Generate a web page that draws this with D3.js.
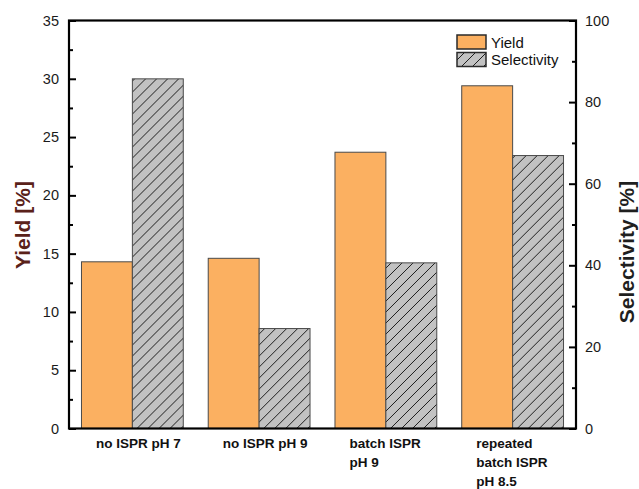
<!DOCTYPE html>
<html>
<head>
<meta charset="utf-8">
<script src="https://cdn.jsdelivr.net/npm/d3@7"></script>
<style>
  html, body { margin: 0; padding: 0; background: #fff; }
  svg { display: block; font-family: Arial, "Liberation Sans", sans-serif; }
</style>
</head>
<body>
<svg id="chart" width="639" height="489"></svg>
<script>
// Process conditions on the x axis (each entry is split into label lines)
const categories = ["no ISPR pH 7", "no ISPR pH 9", "batch ISPR pH 9", "repeated batch ISPR pH 8.5"];
const categoryLines = [["no ISPR pH 7"], ["no ISPR pH 9"], ["batch ISPR", "pH 9"], ["repeated", "batch ISPR", "pH 8.5"]];
// Yield [%] (left axis) and selectivity [%] (right axis)
const yieldValues = [14.3, 14.6, 23.7, 29.4];
const selectivityValues = [85.7, 24.5, 40.6, 66.9];
const seriesNames = ["Yield", "Selectivity"];
// Axis ticks
const yieldTicks = [0, 5, 10, 15, 20, 25, 30, 35];
const yieldMinorTicks = [2.5, 7.5, 12.5, 17.5, 22.5, 27.5, 32.5];
const selTicks = [0, 20, 40, 60, 80, 100];
const selMinorTicks = [10, 30, 50, 70, 90];

const svg = d3.select("#chart");
const plotLeft = 69, plotRight = 576, plotTop = 20.5, plotBottom = 428.5;

const x0 = d3.scaleBand().domain(categories).range([plotLeft, plotRight])
  .paddingInner(25 / 127).paddingOuter(12.5 / 127);
const x1 = d3.scaleBand().domain(seriesNames).range([0, x0.bandwidth()]);
const yYield = d3.scaleLinear().domain([0, 35]).range([plotBottom, plotTop]);
const ySel = d3.scaleLinear().domain([0, 100]).range([plotBottom, plotTop]);

// Diagonal hatch for the selectivity bars
const defs = svg.append("defs");
const pat = defs.append("pattern").attr("id", "hatch")
  .attr("patternUnits", "userSpaceOnUse").attr("width", 11).attr("height", 11);
pat.append("rect").attr("width", 11).attr("height", 11).attr("fill", "#c2c2c2");
pat.append("path").attr("d", "M0,11 L11,0 M-3,3 L3,-3 M8,14 L14,8")
  .attr("stroke", "#1e1e1e").attr("stroke-width", 1);

const fills = { Yield: "#fbb061", Selectivity: "url(#hatch)" };

// Bars
const groups = svg.append("g").selectAll("g").data(categories).join("g")
  .attr("transform", d => `translate(${x0(d)},0)`);

groups.append("rect")
  .attr("x", x1("Yield")).attr("width", x1.bandwidth())
  .attr("y", (d, i) => yYield(yieldValues[i]))
  .attr("height", (d, i) => plotBottom - yYield(yieldValues[i]))
  .attr("fill", fills.Yield).attr("stroke", "#4a4a4a").attr("stroke-width", 1);

groups.append("rect")
  .attr("x", x1("Selectivity")).attr("width", x1.bandwidth())
  .attr("y", (d, i) => ySel(selectivityValues[i]))
  .attr("height", (d, i) => plotBottom - ySel(selectivityValues[i]))
  .attr("fill", fills.Selectivity).attr("stroke", "#4a4a4a").attr("stroke-width", 1);

// Axis styling shared by the value axes
const styleAxis = g => {
  g.select(".domain").remove();
  g.selectAll("line").attr("stroke", "#000").attr("stroke-width", 2);
  g.selectAll("text").attr("fill", "#1a1a1a").style("font-size", "14.5px")
    .style("font-family", "Arial, 'Liberation Sans', sans-serif");
};

// Left axis (ticks pointing inward)
svg.append("g").attr("transform", `translate(${plotLeft},0)`)
  .call(d3.axisLeft(yYield).tickValues(yieldTicks).tickSize(-7).tickPadding(10))
  .call(styleAxis);
svg.append("g").attr("transform", `translate(${plotLeft},0)`)
  .call(d3.axisLeft(yYield).tickValues(yieldMinorTicks).tickSize(-4).tickFormat(""))
  .call(styleAxis);

// Right axis (ticks pointing inward)
svg.append("g").attr("transform", `translate(${plotRight},0)`)
  .call(d3.axisRight(ySel).tickValues(selTicks).tickSize(-7).tickPadding(9))
  .call(styleAxis);
svg.append("g").attr("transform", `translate(${plotRight},0)`)
  .call(d3.axisRight(ySel).tickValues(selMinorTicks).tickSize(-4).tickFormat(""))
  .call(styleAxis);

// Bottom axis with multi-line, left-aligned category labels
const xAxis = svg.append("g").attr("transform", `translate(0,${plotBottom})`)
  .call(d3.axisBottom(x0).tickSize(0).tickFormat(""));
xAxis.select(".domain").remove();
xAxis.selectAll(".tick").each(function (d, i) {
  const t = d3.select(this).append("text")
    .attr("text-anchor", "start")
    .attr("fill", "#111")
    .style("font-size", "13.5px").style("font-weight", "bold")
    .style("font-family", "Arial, 'Liberation Sans', sans-serif");
  categoryLines[i].forEach((line, k) => {
    t.append("tspan").attr("x", -x0.bandwidth() / 2 + 14.5).attr("y", 19.5 + k * 19).text(line);
  });
});

// Plot frame
svg.append("rect").attr("x", plotLeft).attr("y", plotTop)
  .attr("width", plotRight - plotLeft).attr("height", plotBottom - plotTop)
  .attr("fill", "none").attr("stroke", "#000").attr("stroke-width", 2.2);

// Axis titles
svg.append("text").attr("transform", "translate(30,225) rotate(-90)")
  .attr("text-anchor", "middle").attr("fill", "#5a2119")
  .style("font-size", "21px").style("font-weight", "bold").text("Yield [%]");
svg.append("text").attr("transform", "translate(634,252) rotate(-90)")
  .attr("text-anchor", "middle").attr("fill", "#1f1f1f")
  .style("font-size", "21px").style("font-weight", "bold").text("Selectivity [%]");

// Legend
const legend = svg.append("g");
seriesNames.forEach((name, i) => {
  const ly = 35 + i * 17.5;
  legend.append("rect").attr("x", 457).attr("y", ly).attr("width", 29).attr("height", 14)
    .attr("fill", fills[name]).attr("stroke", "#2a2a2a").attr("stroke-width", 1.5);
  legend.append("text").attr("x", 491).attr("y", ly + 12.5)
    .attr("fill", "#111").style("font-size", "15px").text(name);
});
</script>
</body>
</html>
